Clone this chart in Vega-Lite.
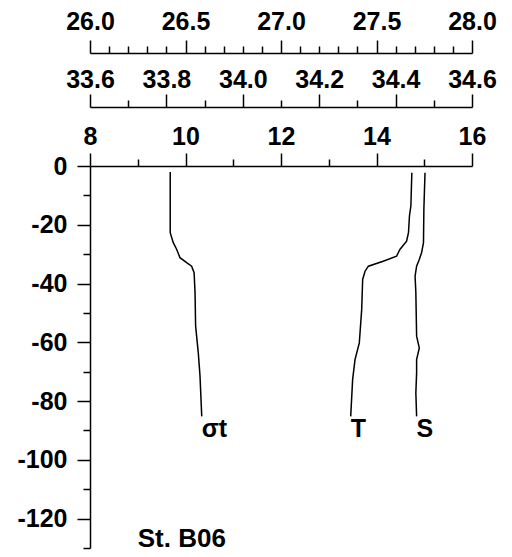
{
  "$schema": "https://vega.github.io/schema/vega-lite/v6.json",
  "width": 382,
  "height": 382,
  "autosize": {"type": "none"},
  "padding": {"left": 90, "top": 166, "right": 40, "bottom": 9},
  "background": "white",
  "config": {
    "view": {"stroke": null},
    "font": "Liberation Sans",
    "axis": {
      "grid": false,
      "domainColor": "black",
      "tickColor": "black",
      "domainWidth": 1.5,
      "tickWidth": 1.5,
      "labelColor": "black",
      "labelFont": "Liberation Sans",
      "labelFontSize": 25,
      "labelFontWeight": "bold",
      "labelFlush": false,
      "labelOverlap": false,
      "title": null
    }
  },
  "datasets": {
    "temp": [
      {"depth": -2.3, "T": 14.74},
      {"depth": -13.6, "T": 14.72},
      {"depth": -17, "T": 14.69},
      {"depth": -22.7, "T": 14.67},
      {"depth": -25.6, "T": 14.63},
      {"depth": -28.4, "T": 14.49},
      {"depth": -30.7, "T": 14.42},
      {"depth": -32.4, "T": 14.14},
      {"depth": -34.1, "T": 13.83},
      {"depth": -35.8, "T": 13.76},
      {"depth": -38.6, "T": 13.71},
      {"depth": -48.8, "T": 13.69},
      {"depth": -60.2, "T": 13.64},
      {"depth": -65.9, "T": 13.55},
      {"depth": -72.7, "T": 13.5},
      {"depth": -85.2, "T": 13.46, "label": "T"}
    ],
    "sal": [
      {"depth": -2.3, "S": 34.477},
      {"depth": -14.8, "S": 34.474},
      {"depth": -26.1, "S": 34.473},
      {"depth": -29.5, "S": 34.468},
      {"depth": -31.8, "S": 34.462},
      {"depth": -34.1, "S": 34.455},
      {"depth": -37.5, "S": 34.451},
      {"depth": -43.1, "S": 34.453},
      {"depth": -57.9, "S": 34.455},
      {"depth": -61.9, "S": 34.462},
      {"depth": -65.9, "S": 34.455},
      {"depth": -70.4, "S": 34.455},
      {"depth": -77.2, "S": 34.453},
      {"depth": -85.2, "S": 34.455, "label": "S"}
    ],
    "sigma": [
      {"depth": -2, "sigma": 26.42},
      {"depth": -22.7, "sigma": 26.42},
      {"depth": -26.1, "sigma": 26.436},
      {"depth": -28.4, "sigma": 26.454},
      {"depth": -31.2, "sigma": 26.471},
      {"depth": -32.9, "sigma": 26.506},
      {"depth": -34.1, "sigma": 26.532},
      {"depth": -36.3, "sigma": 26.545},
      {"depth": -43.1, "sigma": 26.55},
      {"depth": -54.5, "sigma": 26.553},
      {"depth": -63.6, "sigma": 26.567},
      {"depth": -71.5, "sigma": 26.576},
      {"depth": -85.2, "sigma": 26.585, "label": "σt"}
    ]
  },
  "layer": [
    {
      "data": {"name": "temp"},
      "mark": {"type": "line", "color": "black", "strokeWidth": 1.5},
      "encoding": {
        "x": {"field": "T", "type": "quantitative", "scale": {"domain": [8, 16], "nice": false, "zero": false},
          "axis": {"orient": "top", "offset": 0, "values": [8, 10, 12, 14, 16], "tickSize": 13, "labelPadding": 9, "labelBaseline": "alphabetic", "labelExpr": "'' + datum.value"}},
        "y": {"field": "depth", "type": "quantitative", "scale": {"domain": [-130, 0], "nice": false, "zero": false},
          "axis": {"orient": "left", "values": [0, -20, -40, -60, -80, -100, -120], "tickSize": 13, "labelPadding": 10, "labelExpr": "'' + datum.value"}},
        "order": {"field": "depth", "sort": "descending"}
      }
    },
    {
      "data": {"name": "temp"},
      "mark": {"type": "point", "opacity": 0},
      "encoding": {
        "x": {"field": "T", "type": "quantitative", "scale": {"domain": [8, 16], "nice": false, "zero": false},
          "axis": {"orient": "top", "offset": 0, "values": [9, 11, 13, 15], "tickSize": 7, "labels": false, "domain": false}},
        "y": {"field": "depth", "type": "quantitative",
          "axis": {"orient": "left", "values": [-10, -30, -50, -70, -90, -110, -130], "tickSize": 7, "labels": false, "domain": false}}
      }
    },
    {
      "data": {"name": "sal"},
      "mark": {"type": "line", "color": "black", "strokeWidth": 1.5},
      "encoding": {
        "x": {"field": "S", "type": "quantitative", "scale": {"domain": [33.6, 34.6], "nice": false, "zero": false},
          "axis": {"orient": "top", "offset": 59, "values": [33.6, 33.8, 34.0, 34.2, 34.4, 34.6], "format": ".1f", "tickSize": 13, "labelPadding": 7, "labelBaseline": "alphabetic"}},
        "y": {"field": "depth", "type": "quantitative", "axis": null},
        "order": {"field": "depth", "sort": "descending"}
      }
    },
    {
      "data": {"name": "sal"},
      "mark": {"type": "point", "opacity": 0},
      "encoding": {
        "x": {"field": "S", "type": "quantitative", "scale": {"domain": [33.6, 34.6], "nice": false, "zero": false},
          "axis": {"orient": "top", "offset": 59, "values": [33.7, 33.9, 34.1, 34.3, 34.5], "tickSize": 7, "labels": false, "domain": false}},
        "y": {"field": "depth", "type": "quantitative", "axis": null}
      }
    },
    {
      "data": {"name": "sigma"},
      "mark": {"type": "line", "color": "black", "strokeWidth": 1.5},
      "encoding": {
        "x": {"field": "sigma", "type": "quantitative", "scale": {"domain": [26, 28], "nice": false, "zero": false},
          "axis": {"orient": "top", "offset": 113, "values": [26.0, 26.5, 27.0, 27.5, 28.0], "format": ".1f", "tickSize": 13, "labelPadding": 11, "labelBaseline": "alphabetic"}},
        "y": {"field": "depth", "type": "quantitative", "axis": null},
        "order": {"field": "depth", "sort": "descending"}
      }
    },
    {
      "data": {"name": "sigma"},
      "mark": {"type": "point", "opacity": 0},
      "encoding": {
        "x": {"field": "sigma", "type": "quantitative", "scale": {"domain": [26, 28], "nice": false, "zero": false},
          "axis": {"orient": "top", "offset": 113, "values": [26.1, 26.2, 26.3, 26.4, 26.6, 26.7, 26.8, 26.9, 27.1, 27.2, 27.3, 27.4, 27.6, 27.7, 27.8, 27.9], "tickSize": 7, "labels": false, "domain": false}},
        "y": {"field": "depth", "type": "quantitative", "axis": null}
      }
    },
    {
      "data": {"name": "temp"},
      "transform": [{"filter": "datum.label != null"}],
      "mark": {"type": "text", "align": "left", "baseline": "top", "dy": 1, "fontSize": 25, "fontWeight": "bold", "color": "black"},
      "encoding": {
        "x": {"field": "T", "type": "quantitative", "scale": {"domain": [8, 16], "nice": false, "zero": false}, "axis": null},
        "y": {"field": "depth", "type": "quantitative", "axis": null},
        "text": {"field": "label"}
      }
    },
    {
      "data": {"name": "sal"},
      "transform": [{"filter": "datum.label != null"}],
      "mark": {"type": "text", "align": "left", "baseline": "top", "dy": 1, "fontSize": 25, "fontWeight": "bold", "color": "black"},
      "encoding": {
        "x": {"field": "S", "type": "quantitative", "scale": {"domain": [33.6, 34.6], "nice": false, "zero": false}, "axis": null},
        "y": {"field": "depth", "type": "quantitative", "axis": null},
        "text": {"field": "label"}
      }
    },
    {
      "data": {"name": "sigma"},
      "transform": [{"filter": "datum.label != null"}],
      "mark": {"type": "text", "align": "left", "baseline": "top", "dy": 1, "fontSize": 25, "fontWeight": "bold", "color": "black"},
      "encoding": {
        "x": {"field": "sigma", "type": "quantitative", "scale": {"domain": [26, 28], "nice": false, "zero": false}, "axis": null},
        "y": {"field": "depth", "type": "quantitative", "axis": null},
        "text": {"field": "label"}
      }
    },
    {
      "data": {"values": [{"station": "St. B06", "T": 9.0, "depth": -129.6}]},
      "mark": {"type": "text", "align": "left", "baseline": "alphabetic", "fontSize": 26, "fontWeight": "bold", "color": "black"},
      "encoding": {
        "x": {"field": "T", "type": "quantitative", "scale": {"domain": [8, 16], "nice": false, "zero": false}, "axis": null},
        "y": {"field": "depth", "type": "quantitative", "axis": null},
        "text": {"field": "station"}
      }
    }
  ],
  "resolve": {"scale": {"x": "independent"}, "axis": {"x": "independent", "y": "independent"}}
}
